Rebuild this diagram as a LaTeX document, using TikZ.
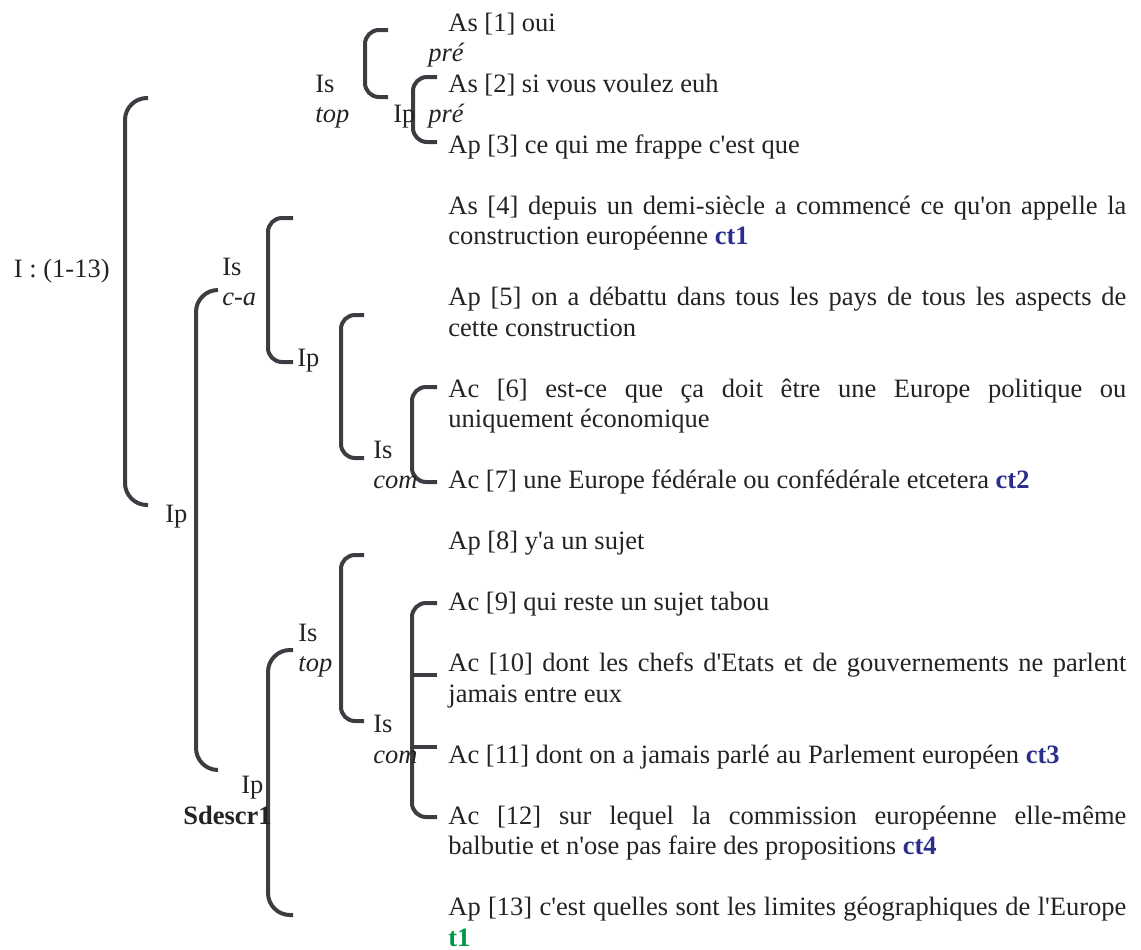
\documentclass[tikz,border=0pt]{standalone}
\usepackage{fontspec}
\setmainfont{Liberation Serif}[Ligatures=TeXOff]
\definecolor{ink}{RGB}{35,35,35}
\definecolor{linegray}{RGB}{60,60,66}
\definecolor{ctblue}{RGB}{43,47,140}
\definecolor{tgreen}{RGB}{0,150,70}
\newcommand{\ctmark}[1]{\textcolor{ctblue}{\textbf{#1}}}

\begin{document}
\begin{tikzpicture}[x=0.5pt,y=-0.5pt,font=\fontsize{13.25}{15.25}\selectfont,
  lbl/.style={anchor=base west,inner sep=0pt,text=ink},
  seg/.style={lbl,text width=339pt,align=justify},
  brk/.style={draw=linegray,line width=2pt,rounded corners=7pt},
  bigbrk/.style={brk,rounded corners=11pt}]
\useasboundingbox (0,0) rectangle (1141,949);
% bracket ends
\coordinate (top-a) at (388,30);  \coordinate (top-b) at (388,97);
\coordinate (pre-a) at (437,77);  \coordinate (pre-b) at (437,142);
\coordinate (root-a) at (148,98); \coordinate (root-b) at (148,505);
\coordinate (ca-a) at (293,218);  \coordinate (ca-b) at (293,362);
\coordinate (ip1-a) at (364,315); \coordinate (ip1-b) at (364,458);
\coordinate (com1-a) at (437,387); \coordinate (com1-b) at (437,482);
\coordinate (ip-a) at (218,290);  \coordinate (ip-b) at (218,770);
\coordinate (top2-a) at (364,555); \coordinate (top2-b) at (364,721);
\coordinate (sd-a) at (293,650);  \coordinate (sd-b) at (293,915);
\coordinate (com2-a) at (437,603); \coordinate (com2-b) at (437,817);
\coordinate (com2-m) at (437,675); \coordinate (com2-n) at (437,747);
% brackets
\draw[brk] (top-a) -- ++(-23,0) |- (top-b);
\draw[brk] (pre-a) -- ++(-24,0) |- (pre-b);
\draw[bigbrk] (root-a) -- ++(-23,0) |- (root-b);
\draw[brk] (ca-a) -- ++(-25,0) |- (ca-b);
\draw[brk] (ip1-a) -- ++(-23,0) |- (ip1-b);
\draw[brk] (com1-a) -- ++(-25,0) |- (com1-b);
\draw[bigbrk] (ip-a) -- ++(-22,0) |- (ip-b);
\draw[brk] (top2-a) -- ++(-23,0) |- (top2-b);
\draw[bigbrk] (sd-a) -- ++(-25,0) |- (sd-b);
\draw[brk] (com2-a) -- ++(-25,0) |- (com2-b);
\draw[brk] (com2-m) -- ++(-25,0);
\draw[brk] (com2-n) -- ++(-25,0);
% labels
\node[lbl,anchor=base east] (root) at (110,277) {I : (1-13)};
\node[lbl] (is-top) at (315,92) {Is};
\node[lbl] (is-top-f) at (315,122.5) {\textit{top}};
\node[lbl] (ip-top) at (393,122.5) {Ip};
\node[lbl] (pre1) at (428,61.5) {\textit{pré}};
\node[lbl] (pre2) at (428,122.5) {\textit{pré}};
\node[lbl] (is-ca) at (222,275) {Is};
\node[lbl] (is-ca-f) at (222,305.5) {\textit{c-a}};
\node[lbl] (ip1) at (297,366.5) {Ip};
\node[lbl] (is-com1) at (373,458) {Is};
\node[lbl] (is-com1-f) at (373,488.5) {\textit{com}};
\node[lbl] (ip) at (165,522) {Ip};
\node[lbl] (is-top2) at (298,641) {Is};
\node[lbl] (is-top2-f) at (298,671.5) {\textit{top}};
\node[lbl] (is-com2) at (373,732.5) {Is};
\node[lbl] (is-com2-f) at (373,763) {\textit{com}};
\node[lbl] (ip-sd) at (241,793.5) {Ip};
\node[lbl] (sd) at (183,824) {\textbf{Sdescr1}};
% segments
\node[lbl] (s1) at (448,31) {As [1] oui};
\node[lbl] (s2) at (448,92) {As [2] si vous voulez euh};
\node[lbl] (s3) at (448,153) {Ap [3] ce qui me frappe c'est que};
\node[seg] (s4) at (448,214) {As [4] depuis un demi-siècle a commencé ce qu'on appelle la\linebreak construction européenne \ctmark{ct1}};
\node[seg] (s5) at (448,305.5) {Ap [5] on a débattu dans tous les pays de tous les aspects de\linebreak cette construction};
\node[seg] (s6) at (448,397) {Ac [6] est-ce que ça doit être une Europe politique ou\linebreak uniquement économique};
\node[lbl] (s7) at (448,488.5) {Ac [7] une Europe fédérale ou confédérale etcetera \ctmark{ct2}};
\node[lbl] (s8) at (448,549.5) {Ap [8] y'a un sujet};
\node[lbl] (s9) at (448,610.5) {Ac [9] qui reste un sujet tabou};
\node[seg] (s10) at (448,671.5) {Ac [10] dont les chefs d'Etats et de gouvernements ne parlent\linebreak jamais entre eux};
\node[lbl] (s11) at (448,763) {Ac [11] dont on a jamais parlé au Parlement européen \ctmark{ct3}};
\node[seg] (s12) at (448,824) {Ac [12] sur lequel la commission européenne elle-même\linebreak balbutie et n'ose pas faire des propositions \ctmark{ct4}};
\node[seg] (s13) at (448,915.5) {Ap [13] c'est quelles sont les limites géographiques de l'Europe\linebreak \textcolor{tgreen}{\textbf{t1}}};
\end{tikzpicture}
\end{document}
